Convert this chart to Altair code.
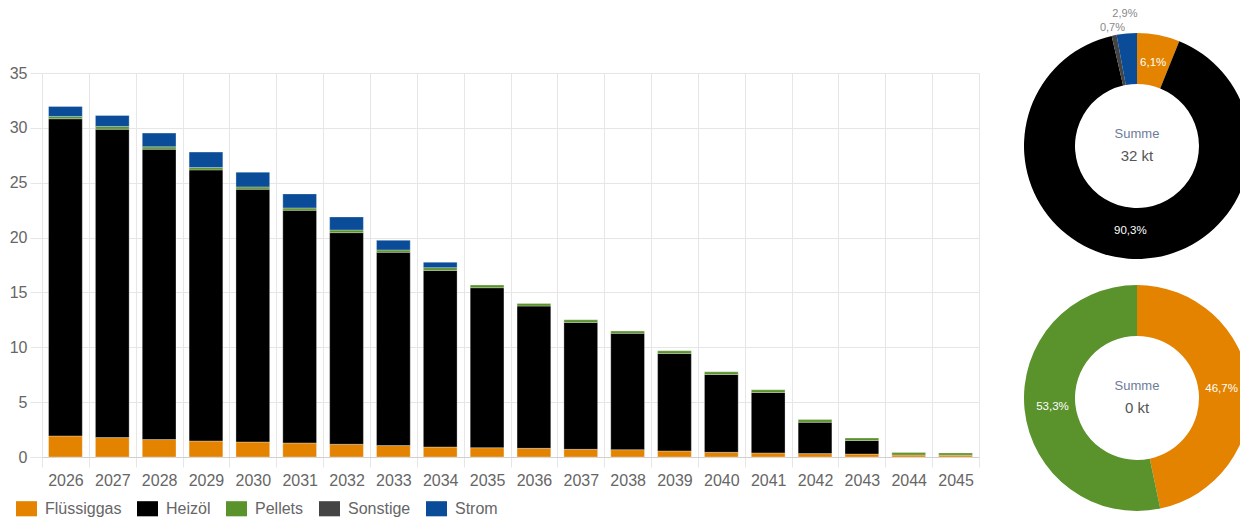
import altair as alt
import pandas as pd

years = [str(y) for y in range(2026, 2046)]
categories = ["Flüssiggas", "Heizöl", "Pellets", "Sonstige", "Strom"]
colors = ["#E38300", "#000000", "#5A922C", "#444444", "#0A4C97"]

fluessiggas = [1.92, 1.77, 1.59, 1.46, 1.37, 1.28, 1.16, 1.04, 0.91, 0.85,
               0.79, 0.70, 0.67, 0.55, 0.43, 0.37, 0.31, 0.27, 0.18, 0.17]
heizoel = [28.91, 28.11, 26.47, 24.71, 23.04, 21.21, 19.29, 17.62, 16.10, 14.58,
           12.97, 11.57, 10.60, 8.89, 7.09, 5.51, 2.86, 1.23, 0.0, 0.0]
pellets = [0.21, 0.25, 0.21, 0.21, 0.21, 0.21, 0.24, 0.21, 0.25, 0.24,
           0.24, 0.24, 0.21, 0.24, 0.24, 0.24, 0.24, 0.23, 0.22, 0.20]
sonstige = [0.0, 0.0, 0.0, 0.0, 0.0, 0.0, 0.0, 0.0, 0.0, 0.0,
            0.0, 0.0, 0.0, 0.0, 0.0, 0.0, 0.0, 0.0, 0.0, 0.0]
strom = [0.91, 1.00, 1.25, 1.41, 1.34, 1.28, 1.19, 0.88, 0.49, 0.0,
         0.0, 0.0, 0.0, 0.0, 0.0, 0.0, 0.0, 0.0, 0.0, 0.0]

# donut shares (percent) as printed in the reference
donut_top_year = "2026"
donut_top_share = [6.1, 90.3, 0.0, 0.7, 2.9]
donut_bottom_year = "2045"
donut_bottom_share = [46.7, 0.0, 53.3, 0.0, 0.0]

series = [fluessiggas, heizoel, pellets, sonstige, strom]
rows = []
for i, y in enumerate(years):
    for j, c in enumerate(categories):
        rows.append({"Jahr": y, "Energieträger": c, "kt": series[j][i], "ord": j})
df = pd.DataFrame(rows)
totals = df.groupby("Jahr")["kt"].sum()

FONT = "Liberation Sans"
GRID = "#e6e6e6"
color_scale = alt.Scale(domain=categories, range=colors)

bars = alt.Chart(df).transform_filter("datum.kt > 0").mark_bar(
    width=alt.RelativeBandSize(0.72), stroke="white", strokeOpacity=0.3, strokeWidth=1
).encode(
    x=alt.X("Jahr:O", scale=alt.Scale(paddingInner=0, paddingOuter=0),
            axis=alt.Axis(title=None, labelAngle=0, tickBand="extent", grid=True,
                          gridColor=GRID, tickColor=GRID, tickSize=10,
                          domainColor="#d0d0d0", labelFontSize=16, labelColor="#666",
                          labelPadding=5)),
    y=alt.Y("kt:Q", stack="zero", scale=alt.Scale(domain=[0, 35], nice=False),
            axis=alt.Axis(title=None, values=[0, 5, 10, 15, 20, 25, 30, 35], grid=True,
                          gridColor=GRID, tickColor=GRID, tickSize=12, domain=False,
                          labelFontSize=16, labelColor="#666", labelPadding=3)),
    color=alt.Color("Energieträger:N", scale=color_scale,
                    legend=alt.Legend(title=None, orient="none", legendX=-26, legendY=425,
                                      direction="horizontal", columns=5,
                                      symbolType="M-1,-0.72H1V0.72H-1Z", symbolSize=441,
                                      symbolStrokeWidth=0, symbolOpacity=1,
                                      labelFontSize=16, labelColor="#666", labelOffset=8,
                                      columnPadding=15)),
    order=alt.Order("ord:Q"),
)

# donut centres, relative to the bar plot origin
CX = 1095


def donut(shares, year, cy):
    d = pd.DataFrame({"Energieträger": categories, "share": shares, "ord": list(range(5))})
    total_label = f"{round(totals[year]):.0f} kt"
    base = alt.Chart(d).transform_calculate(
        label="replace(format(datum.share, '.1f'), '.', ',') + '%'"
    )
    theta = alt.Theta("share:Q", stack=True)
    common = dict(theta=theta, order=alt.Order("ord:Q"), detail="Energieträger:N",
                  x=alt.value(CX), y=alt.value(cy))
    arc = base.mark_arc(innerRadius=62, outerRadius=113).encode(
        color=alt.Color("Energieträger:N", scale=color_scale), **common)
    inner = base.transform_calculate(t="datum.share >= 5 ? datum.label : ''").mark_text(
        radius=85, color="white", fontSize=11.5).encode(text="t:N", **common)
    out1 = base.transform_calculate(
        t="datum.share > 0 && datum.share < 5 && datum['Energieträger'] == 'Sonstige' ? datum.label : ''"
    ).mark_text(radius=121, color="#888", fontSize=11).encode(text="t:N", **common)
    out2 = base.transform_calculate(
        t="datum.share > 0 && datum.share < 5 && datum['Energieträger'] == 'Strom' ? datum.label : ''"
    ).mark_text(radius=133, color="#888", fontSize=11).encode(text="t:N", **common)
    summe = alt.Chart(pd.DataFrame({"t": ["Summe"]})).mark_text(
        fontSize=13, color="#6E7B98").encode(text="t:N", x=alt.value(CX), y=alt.value(cy - 12))
    tot = alt.Chart(pd.DataFrame({"t": [total_label]})).mark_text(
        fontSize=15, color="#555").encode(text="t:N", x=alt.value(CX), y=alt.value(cy + 10))
    return [arc, inner, out1, out2, summe, tot]


layers = [bars] + donut(donut_top_share, donut_top_year, 73) + \
    donut(donut_bottom_share, donut_bottom_year, 325)

chart = alt.layer(*layers).properties(
    width=937, height=384,
    autosize=alt.AutoSizeParams(type="none"),
    padding={"left": 34, "top": 65, "right": 261, "bottom": 63},
).configure(font=FONT).configure_view(stroke=None)

chart.save("out.html", embed_options={"renderer": "svg", "actions": False})
